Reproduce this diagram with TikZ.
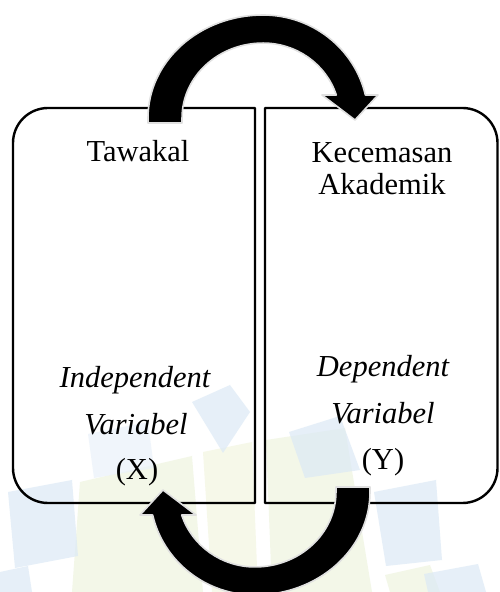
\documentclass[tikz,border=0pt]{standalone}
\usepackage{fontspec}
\setmainfont{Liberation Serif}
\definecolor{wmblue}{HTML}{DCE9F6}
\definecolor{wmgreen}{HTML}{EEF4DF}
\definecolor{wmyellow}{HTML}{F3F6E0}
\tikzset{
  boxline/.style={draw=black, line width=2.4pt, line join=round},
  arrowfill/.style={fill=black, draw=black!12, line width=1.6pt, line join=round},
  lbl/.style={anchor=base, inner sep=0pt, font=\fontsize{30.5}{36}\selectfont},
  ilbl/.style={lbl, font=\fontsize{30.5}{36}\selectfont\itshape},
}
\begin{document}
\begin{tikzpicture}[x=1pt,y=1pt]
\clip (0,0) rectangle (499,592);
\fill[white] (0,0) rectangle (499,592);
% faint watermark (pixel coordinates, y downwards)
\begin{scope}[yshift=592pt, yscale=-1, opacity=0.7]
  \fill[wmgreen] (80,482) -- (192,456) -- (203,592) -- (72,592) -- cycle;
  \fill[wmyellow] (203,452) -- (252,442) -- (258,592) -- (212,592) -- cycle;
  \fill[wmgreen] (266,440) -- (345,428) -- (372,592) -- (272,592) -- cycle;
  \fill[wmgreen] (385,575) -- (430,565) -- (440,592) -- (390,592) -- cycle;
  \fill[wmblue] (8,492) -- (72,480) -- (78,556) -- (15,568) -- cycle;
  \fill[wmblue] (0,572) -- (28,566) -- (32,592) -- (0,592) -- cycle;
  \fill[wmblue!60] (88,434) -- (148,422) -- (154,468) -- (94,478) -- cycle;
  \fill[wmblue] (192,402) -- (230,385) -- (250,412) -- (223,453) -- cycle;
  \fill[wmblue] (289,432) -- (340,416) -- (360,470) -- (305,478) -- cycle;
  \fill[wmblue] (374,492) -- (436,480) -- (442,560) -- (386,566) -- cycle;
  \fill[wmblue] (424,574) -- (478,564) -- (486,592) -- (428,592) -- cycle;
\end{scope}
% boxes
\draw[boxline] (255,89) -- (255,484) -- (48,484)
  arc[start angle=90, end angle=180, radius=35] -- (13,124)
  arc[start angle=180, end angle=270, radius=35] -- cycle;
\draw[boxline] (265,89) -- (265,484) -- (462.5,484)
  arc[start angle=90, end angle=0, radius=35] -- (497.5,124)
  arc[start angle=0, end angle=-90, radius=35] -- cycle;
% top arrow
\fill[arrowfill] (148,469) -- (148,474)
  arc[start angle=180, end angle=90, x radius=115, y radius=103]
  arc[start angle=90, end angle=12.9, x radius=105, y radius=103]
  -- (378,497) -- (355,472) -- (322,497) -- (336.3,497)
  arc[start angle=17.9, end angle=90, x radius=77, y radius=75]
  arc[start angle=90, end angle=180, x radius=81, y radius=75]
  -- (182,469) -- cycle;
% bottom arrow (same shape turned round)
\begin{scope}[rotate around={180:(259,287)}]
\fill[arrowfill] (148,469) -- (148,474)
  arc[start angle=180, end angle=90, x radius=115, y radius=103]
  arc[start angle=90, end angle=12.9, x radius=105, y radius=103]
  -- (378,497) -- (355,472) -- (322,497) -- (336.3,497)
  arc[start angle=17.9, end angle=90, x radius=77, y radius=75]
  arc[start angle=90, end angle=180, x radius=81, y radius=75]
  -- (182,469) -- cycle;
\end{scope}
% texts
\node[lbl] (taw) at (138,430) {Tawakal};
\node[lbl] (kec) at (382,429) {Kecemasan};
\node[lbl] (aka) at (382,397) {Akademik};
\node[ilbl] (ind) at (135,204) {Independent};
\node[ilbl] (varx) at (136,157) {Variabel};
\node[lbl] (x) at (137,112) {(X)};
\node[ilbl] (dep) at (383,215) {Dependent};
\node[ilbl] (vary) at (383,168) {Variabel};
\node[lbl] (y) at (383,122) {(Y)};
\end{tikzpicture}
\end{document}
